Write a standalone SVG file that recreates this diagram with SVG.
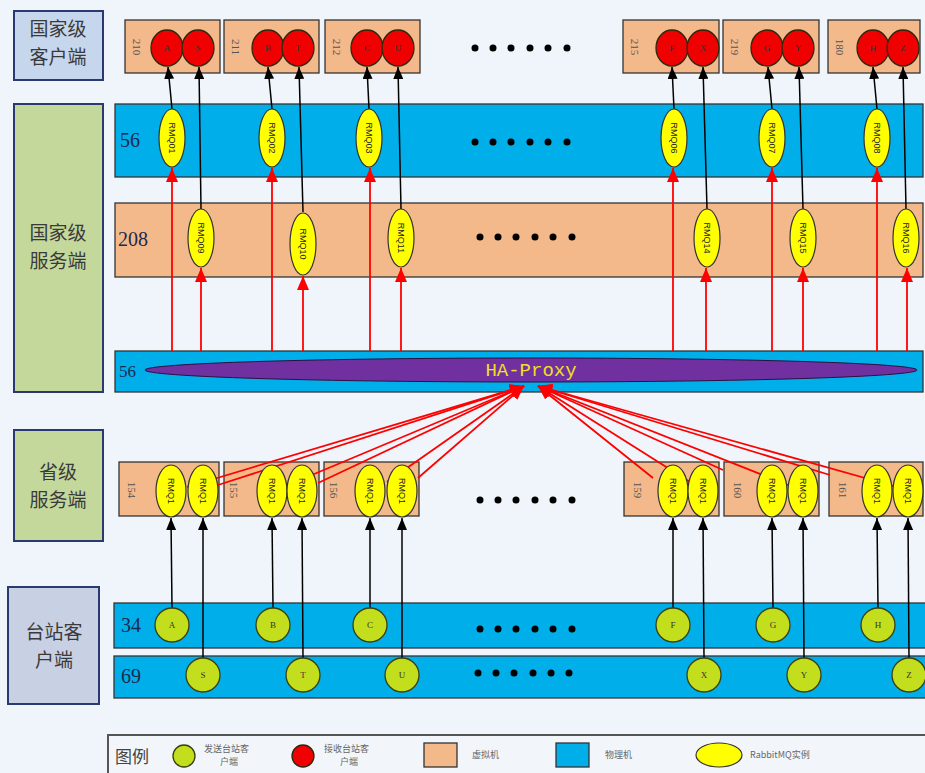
<svg xmlns="http://www.w3.org/2000/svg" width="925" height="773" viewBox="0 0 925 773">
<defs>
<marker id="ab" viewBox="0 0 12 10" refX="12" refY="5" markerWidth="12" markerHeight="10" markerUnits="userSpaceOnUse" orient="auto"><path d="M0,0 L12,5 L0,10 z" fill="#000"/></marker>
<marker id="ar" viewBox="0 0 14 12" refX="14" refY="6" markerWidth="14" markerHeight="12" markerUnits="userSpaceOnUse" orient="auto"><path d="M0,0 L14,6 L0,12 z" fill="#f00"/></marker>
</defs>
<style>
.cat{stroke:#2b3a6e;stroke-width:2}
.catt{font-family:"Noto Sans CJK SC","Noto Sans",sans-serif;font-size:19px;fill:#3a3a3a;text-anchor:middle}
.vm{fill:#f3b98a;stroke:#333;stroke-width:1.3}
.pm{fill:#00aeea;stroke:#333;stroke-width:1.3}
.num{font-family:"Liberation Serif",serif;font-size:20px;fill:#1c2a50}
.vlab{font-family:"Liberation Serif",serif;font-size:11px;fill:#555;text-anchor:middle;dominant-baseline:central}
.red{fill:#f00000;stroke:#2a2a10;stroke-width:1.3}
.grn{fill:#c3de1c;stroke:#3a4010;stroke-width:1.3}
.yel{fill:#ffff00;stroke:#333;stroke-width:1.2}
.ct{font-family:"Liberation Serif",serif;font-size:9px;fill:#333;text-anchor:middle;dominant-baseline:central}
.rt{font-family:"Liberation Sans",sans-serif;font-size:9px;fill:#222;text-anchor:middle;dominant-baseline:central}
.bl{stroke:#000;stroke-width:1.5;fill:none}
.rl{stroke:#f00;stroke-width:1.8;fill:none}
.dot{fill:#000}
.lg{font-family:"Noto Sans CJK SC",sans-serif;font-size:9px;fill:#666}
</style>
<rect x="0" y="0" width="925" height="773" fill="#eff5fa"/>

<g id="cat-national-client"><rect x="14" y="11" width="89" height="69" fill="#c6d6ec" class="cat"/><text class="catt" x="58" y="36">国家级</text><text class="catt" x="58" y="64">客户端</text></g>
<g id="cat-national-server"><rect x="14" y="104" width="89" height="288" fill="#c4d89c" class="cat"/><text class="catt" x="58" y="240">国家级</text><text class="catt" x="58" y="268">服务端</text></g>
<g id="cat-province-server"><rect x="14" y="430" width="89" height="111" fill="#c4d89c" class="cat"/><text class="catt" x="58" y="479">省级</text><text class="catt" x="58" y="507">服务端</text></g>
<g id="cat-station-client"><rect x="8" y="587" width="91" height="117" fill="#c8d0e4" class="cat"/><text class="catt" x="54" y="639">台站客</text><text class="catt" x="54" y="667">户端</text></g>

<g id="row-56"><rect class="pm" x="115" y="104" width="808" height="73"/><text class="num" x="120" y="147">56</text>
<g class="dot"><circle cx="475" cy="142" r="3.5"/><circle cx="493" cy="142" r="3.5"/><circle cx="511" cy="142" r="3.5"/><circle cx="530" cy="142" r="3.5"/><circle cx="548" cy="142" r="3.5"/><circle cx="567" cy="142" r="3.5"/></g></g>
<g id="row-208"><rect class="vm" x="115" y="203" width="808" height="74"/><text class="num" x="118" y="246">208</text>
<g class="dot"><circle cx="480" cy="237" r="3.5"/><circle cx="498" cy="237" r="3.5"/><circle cx="516" cy="237" r="3.5"/><circle cx="535" cy="237" r="3.5"/><circle cx="553" cy="237" r="3.5"/><circle cx="572" cy="237" r="3.5"/></g></g>
<g id="row-ha"><rect class="pm" x="115" y="351" width="808" height="41"/><text class="num" x="119" y="377" style="font-size:17px">56</text>
<ellipse cx="531" cy="370" rx="386" ry="12" fill="#7030a0" stroke="#2a1040" stroke-width="1"/>
<text x="531" y="376" font-family="Liberation Mono,monospace" font-size="19" fill="#f0e020" text-anchor="middle">HA-Proxy</text></g>
<g id="row-34"><rect class="pm" x="114" y="603" width="815" height="45"/><text class="num" x="121" y="632">34</text>
<g class="dot"><circle cx="480" cy="629" r="3.5"/><circle cx="498" cy="629" r="3.5"/><circle cx="516" cy="629" r="3.5"/><circle cx="535" cy="629" r="3.5"/><circle cx="553" cy="629" r="3.5"/><circle cx="572" cy="629" r="3.5"/></g></g>
<g id="row-69"><rect class="pm" x="114" y="656" width="815" height="42"/><text class="num" x="121" y="683">69</text>
<g class="dot"><circle cx="478" cy="673" r="3.5"/><circle cx="496" cy="673" r="3.5"/><circle cx="514" cy="673" r="3.5"/><circle cx="533" cy="673" r="3.5"/><circle cx="551" cy="673" r="3.5"/><circle cx="569" cy="673" r="3.5"/></g></g>

<g id="top-dots" class="dot"><circle cx="475" cy="48" r="3.5"/><circle cx="493" cy="48" r="3.5"/><circle cx="511" cy="48" r="3.5"/><circle cx="530" cy="48" r="3.5"/><circle cx="548" cy="48" r="3.5"/><circle cx="567" cy="48" r="3.5"/></g>
<g id="prov-dots" class="dot"><circle cx="480" cy="500" r="3.5"/><circle cx="498" cy="500" r="3.5"/><circle cx="516" cy="500" r="3.5"/><circle cx="535" cy="500" r="3.5"/><circle cx="553" cy="500" r="3.5"/><circle cx="572" cy="500" r="3.5"/></g>

<g id="client-210"><rect class="vm" x="125" y="20" width="95" height="53"/><text class="vlab" transform="translate(137,47) rotate(90)">210</text>
<ellipse class="red" cx="167" cy="48" rx="16" ry="18"/><text class="ct" x="167" y="48">A</text><ellipse class="red" cx="198" cy="48" rx="16" ry="18"/><text class="ct" x="198" y="48">S</text></g>
<g id="client-211"><rect class="vm" x="224" y="20" width="95" height="53"/><text class="vlab" transform="translate(236,47) rotate(90)">211</text>
<ellipse class="red" cx="268" cy="48" rx="16" ry="18"/><text class="ct" x="268" y="48">B</text><ellipse class="red" cx="298" cy="48" rx="16" ry="18"/><text class="ct" x="298" y="48">T</text></g>
<g id="client-212"><rect class="vm" x="325" y="20" width="95" height="53"/><text class="vlab" transform="translate(337,47) rotate(90)">212</text>
<ellipse class="red" cx="367" cy="48" rx="16" ry="18"/><text class="ct" x="367" y="48">C</text><ellipse class="red" cx="398" cy="48" rx="16" ry="18"/><text class="ct" x="398" y="48">U</text></g>
<g id="client-215"><rect class="vm" x="623" y="20" width="96" height="53"/><text class="vlab" transform="translate(635,47) rotate(90)">215</text>
<ellipse class="red" cx="672" cy="48" rx="16" ry="18"/><text class="ct" x="672" y="48">F</text><ellipse class="red" cx="703" cy="48" rx="16" ry="18"/><text class="ct" x="703" y="48">X</text></g>
<g id="client-219"><rect class="vm" x="723" y="20" width="96" height="53"/><text class="vlab" transform="translate(735,47) rotate(90)">219</text>
<ellipse class="red" cx="767" cy="48" rx="16" ry="18"/><text class="ct" x="767" y="48">G</text><ellipse class="red" cx="798" cy="48" rx="16" ry="18"/><text class="ct" x="798" y="48">Y</text></g>
<g id="client-180"><rect class="vm" x="828" y="20" width="92" height="53"/><text class="vlab" transform="translate(840,47) rotate(90)">180</text>
<ellipse class="red" cx="873" cy="48" rx="16" ry="18"/><text class="ct" x="873" y="48">H</text><ellipse class="red" cx="903" cy="48" rx="16" ry="18"/><text class="ct" x="903" y="48">Z</text></g>

<g id="prov-154"><rect class="vm" x="119" y="462" width="100" height="54"/><text class="vlab" transform="translate(132,490) rotate(90)">154</text></g>
<g id="prov-155"><rect class="vm" x="224" y="462" width="95" height="54"/><text class="vlab" transform="translate(234,490) rotate(90)">155</text></g>
<g id="prov-156"><rect class="vm" x="324" y="462" width="95" height="54"/><text class="vlab" transform="translate(334,490) rotate(90)">156</text></g>
<g id="prov-159"><rect class="vm" x="624" y="462" width="95" height="54"/><text class="vlab" transform="translate(638,490) rotate(90)">159</text></g>
<g id="prov-160"><rect class="vm" x="724" y="462" width="95" height="54"/><text class="vlab" transform="translate(738,490) rotate(90)">160</text></g>
<g id="prov-161"><rect class="vm" x="829" y="462" width="94" height="54"/><text class="vlab" transform="translate(843,490) rotate(90)">161</text></g>

<g id="connectors">
<g class="bl" marker-end="url(#ab)">
<line x1="172" y1="109" x2="168" y2="67"/><line x1="201" y1="209" x2="199" y2="67"/>
<line x1="272" y1="109" x2="268" y2="67"/><line x1="303" y1="212" x2="299" y2="67"/>
<line x1="369" y1="109" x2="367" y2="67"/><line x1="401" y1="209" x2="398" y2="67"/>
<line x1="674" y1="109" x2="672" y2="67"/><line x1="707" y1="209" x2="703" y2="67"/>
<line x1="772" y1="109" x2="768" y2="67"/><line x1="803" y1="209" x2="799" y2="67"/>
<line x1="877" y1="109" x2="873" y2="67"/><line x1="906" y1="209" x2="903" y2="67"/>
<line x1="172" y1="608" x2="171" y2="518"/><line x1="203" y1="658" x2="203" y2="518"/>
<line x1="273" y1="608" x2="272" y2="518"/><line x1="303" y1="658" x2="302" y2="518"/>
<line x1="370" y1="608" x2="370" y2="518"/><line x1="402" y1="658" x2="402" y2="518"/>
<line x1="673" y1="608" x2="673" y2="518"/><line x1="704" y1="658" x2="703" y2="518"/>
<line x1="773" y1="608" x2="772" y2="518"/><line x1="804" y1="658" x2="803" y2="518"/>
<line x1="878" y1="608" x2="877" y2="518"/><line x1="909" y1="658" x2="908" y2="518"/>
</g>
<g class="rl" marker-end="url(#ar)">
<line x1="172" y1="352" x2="172" y2="168"/><line x1="201" y1="352" x2="201" y2="268"/>
<line x1="272" y1="352" x2="272" y2="168"/><line x1="303" y1="352" x2="303" y2="276"/>
<line x1="370" y1="352" x2="370" y2="168"/><line x1="401" y1="352" x2="401" y2="268"/>
<line x1="673" y1="352" x2="673" y2="168"/><line x1="706" y1="352" x2="706" y2="268"/>
<line x1="772" y1="352" x2="772" y2="168"/><line x1="803" y1="352" x2="803" y2="268"/>
<line x1="877" y1="352" x2="877" y2="168"/><line x1="907" y1="352" x2="907" y2="268"/>
<line x1="187" y1="487" x2="524" y2="386"/><line x1="218" y1="485" x2="524" y2="386"/>
<line x1="288" y1="485" x2="524" y2="386"/><line x1="318" y1="483" x2="524" y2="386"/>
<line x1="387" y1="482" x2="524" y2="386"/><line x1="418" y1="478" x2="524" y2="386"/>
<line x1="653" y1="478" x2="538" y2="386"/><line x1="690" y1="482" x2="538" y2="386"/>
<line x1="723" y1="470" x2="538" y2="386"/><line x1="788" y1="485" x2="538" y2="386"/>
<line x1="830" y1="475" x2="538" y2="386"/><line x1="897" y1="487" x2="538" y2="386"/>
</g>
</g>

<g id="rmq-national">
<g id="RMQ01"><ellipse class="yel" cx="172" cy="138" rx="13" ry="29"/><text class="rt" transform="translate(172,138) rotate(90)">RMQ01</text></g>
<g id="RMQ02"><ellipse class="yel" cx="272" cy="138" rx="13" ry="29"/><text class="rt" transform="translate(272,138) rotate(90)">RMQ02</text></g>
<g id="RMQ03"><ellipse class="yel" cx="369" cy="138" rx="13" ry="29"/><text class="rt" transform="translate(369,138) rotate(90)">RMQ03</text></g>
<g id="RMQ06"><ellipse class="yel" cx="674" cy="138" rx="13" ry="29"/><text class="rt" transform="translate(674,138) rotate(90)">RMQ06</text></g>
<g id="RMQ07"><ellipse class="yel" cx="772" cy="138" rx="13" ry="29"/><text class="rt" transform="translate(772,138) rotate(90)">RMQ07</text></g>
<g id="RMQ08"><ellipse class="yel" cx="877" cy="138" rx="13" ry="29"/><text class="rt" transform="translate(877,138) rotate(90)">RMQ08</text></g>
<g id="RMQ09"><ellipse class="yel" cx="201" cy="238" rx="13" ry="29"/><text class="rt" transform="translate(201,238) rotate(90)">RMQ09</text></g>
<g id="RMQ10"><ellipse class="yel" cx="303" cy="244" rx="13" ry="31"/><text class="rt" transform="translate(303,244) rotate(90)">RMQ10</text></g>
<g id="RMQ11"><ellipse class="yel" cx="401" cy="238" rx="13" ry="29"/><text class="rt" transform="translate(401,238) rotate(90)">RMQ11</text></g>
<g id="RMQ14"><ellipse class="yel" cx="707" cy="238" rx="13" ry="29"/><text class="rt" transform="translate(707,238) rotate(90)">RMQ14</text></g>
<g id="RMQ15"><ellipse class="yel" cx="803" cy="238" rx="13" ry="29"/><text class="rt" transform="translate(803,238) rotate(90)">RMQ15</text></g>
<g id="RMQ16"><ellipse class="yel" cx="906" cy="238" rx="13" ry="29"/><text class="rt" transform="translate(906,238) rotate(90)">RMQ16</text></g>
</g>

<g id="rmq-province">
<g id="p154a"><ellipse class="yel" cx="171" cy="491" rx="15" ry="26"/><text class="rt" transform="translate(171,491) rotate(90)">RMQ1</text></g>
<g id="p154b"><ellipse class="yel" cx="203" cy="491" rx="15" ry="26"/><text class="rt" transform="translate(203,491) rotate(90)">RMQ1</text></g>
<g id="p155a"><ellipse class="yel" cx="272" cy="491" rx="15" ry="26"/><text class="rt" transform="translate(272,491) rotate(90)">RMQ1</text></g>
<g id="p155b"><ellipse class="yel" cx="302" cy="491" rx="15" ry="26"/><text class="rt" transform="translate(302,491) rotate(90)">RMQ1</text></g>
<g id="p156a"><ellipse class="yel" cx="370" cy="491" rx="15" ry="26"/><text class="rt" transform="translate(370,491) rotate(90)">RMQ1</text></g>
<g id="p156b"><ellipse class="yel" cx="402" cy="491" rx="15" ry="26"/><text class="rt" transform="translate(402,491) rotate(90)">RMQ1</text></g>
<g id="p159a"><ellipse class="yel" cx="673" cy="491" rx="15" ry="26"/><text class="rt" transform="translate(673,491) rotate(90)">RMQ1</text></g>
<g id="p159b"><ellipse class="yel" cx="703" cy="491" rx="15" ry="26"/><text class="rt" transform="translate(703,491) rotate(90)">RMQ1</text></g>
<g id="p160a"><ellipse class="yel" cx="772" cy="491" rx="15" ry="26"/><text class="rt" transform="translate(772,491) rotate(90)">RMQ1</text></g>
<g id="p160b"><ellipse class="yel" cx="803" cy="491" rx="15" ry="26"/><text class="rt" transform="translate(803,491) rotate(90)">RMQ1</text></g>
<g id="p161a"><ellipse class="yel" cx="877" cy="491" rx="15" ry="26"/><text class="rt" transform="translate(877,491) rotate(90)">RMQ1</text></g>
<g id="p161b"><ellipse class="yel" cx="908" cy="491" rx="15" ry="26"/><text class="rt" transform="translate(908,491) rotate(90)">RMQ1</text></g>
</g>

<g id="stations">
<g id="st-A"><circle class="grn" cx="172" cy="625" r="17"/><text class="ct" x="172" y="625">A</text></g>
<g id="st-B"><circle class="grn" cx="273" cy="625" r="17"/><text class="ct" x="273" y="625">B</text></g>
<g id="st-C"><circle class="grn" cx="370" cy="625" r="17"/><text class="ct" x="370" y="625">C</text></g>
<g id="st-F"><circle class="grn" cx="673" cy="625" r="17"/><text class="ct" x="673" y="625">F</text></g>
<g id="st-G"><circle class="grn" cx="773" cy="625" r="17"/><text class="ct" x="773" y="625">G</text></g>
<g id="st-H"><circle class="grn" cx="878" cy="625" r="17"/><text class="ct" x="878" y="625">H</text></g>
<g id="st-S"><circle class="grn" cx="203" cy="675" r="17"/><text class="ct" x="203" y="675">S</text></g>
<g id="st-T"><circle class="grn" cx="303" cy="675" r="17"/><text class="ct" x="303" y="675">T</text></g>
<g id="st-U"><circle class="grn" cx="402" cy="675" r="17"/><text class="ct" x="402" y="675">U</text></g>
<g id="st-X"><circle class="grn" cx="704" cy="675" r="17"/><text class="ct" x="704" y="675">X</text></g>
<g id="st-Y"><circle class="grn" cx="804" cy="675" r="17"/><text class="ct" x="804" y="675">Y</text></g>
<g id="st-Z"><circle class="grn" cx="909" cy="675" r="17"/><text class="ct" x="909" y="675">Z</text></g>
</g>

<g id="legend">
<rect x="108" y="735" width="830" height="50" fill="#f2f6fa" stroke="#555" stroke-width="2"/>
<text x="115" y="763" font-family="Noto Sans CJK SC,sans-serif" font-size="17" fill="#444">图例</text>
<circle class="grn" cx="184" cy="756" r="11"/>
<text class="lg" x="204" y="752">发送台站客</text><text class="lg" x="220" y="765">户端</text>
<circle class="red" cx="303" cy="756" r="11"/>
<text class="lg" x="324" y="752">接收台站客</text><text class="lg" x="340" y="765">户端</text>
<rect class="vm" x="424" y="743" width="33" height="24"/>
<text class="lg" x="472" y="758">虚拟机</text>
<rect class="pm" x="556" y="743" width="33" height="24"/>
<text class="lg" x="605" y="758">物理机</text>
<ellipse class="yel" cx="719" cy="755" rx="23" ry="12"/>
<text class="lg" x="750" y="758">RabbitMQ实例</text>
</g>
</svg>
